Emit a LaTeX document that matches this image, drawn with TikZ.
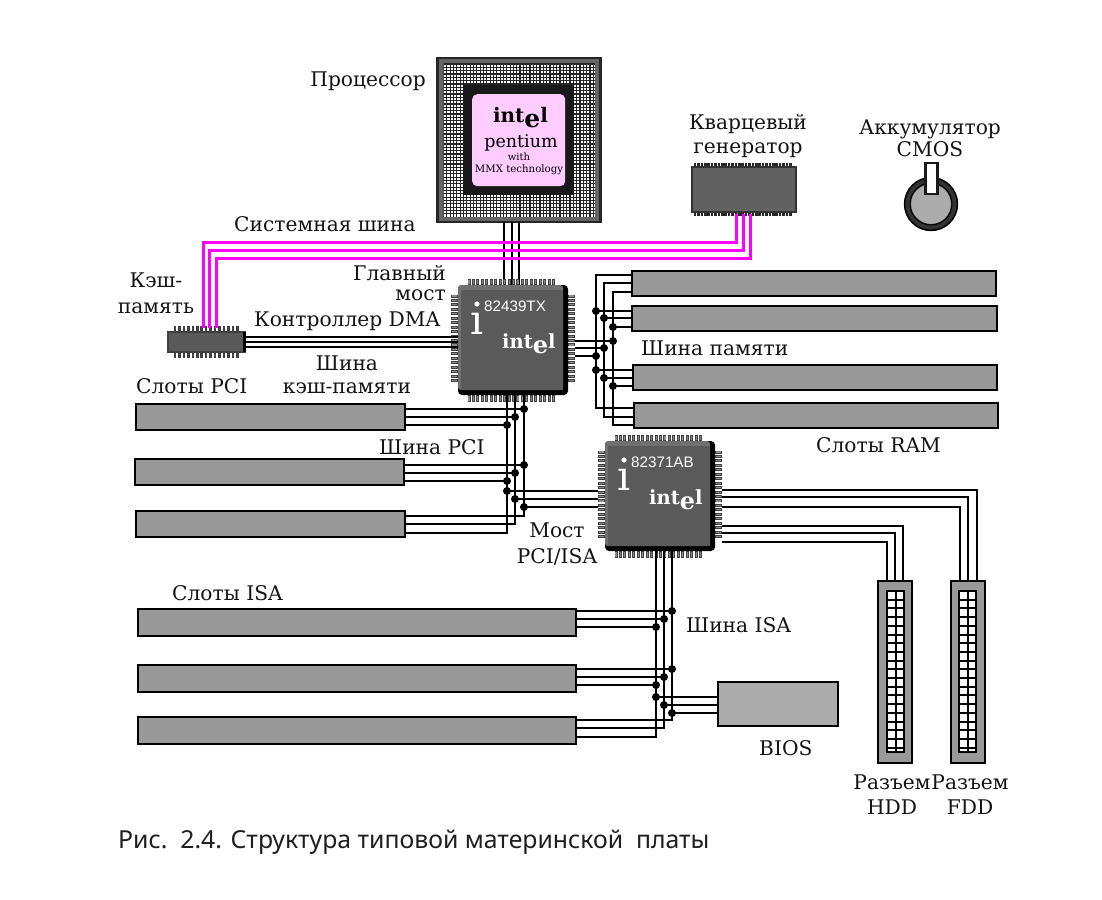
\documentclass[tikz,border=0pt]{standalone}
\usepackage{fontspec}
\setmainfont{DejaVu Serif}
\newfontfamily\chipsans{Liberation Sans}
\newfontfamily\capsans{Noto Sans}
\definecolor{slotgray}{HTML}{999999}
\definecolor{chipgray}{HTML}{5A5A5A}
\definecolor{chiplight}{HTML}{707070}
\definecolor{pinko}{HTML}{FFCCFF}
\definecolor{mag}{HTML}{FF00FF}
\definecolor{biosgray}{HTML}{ACACAC}
\newcommand{\fs}[1]{\fontsize{#1}{#1}\selectfont}
\tikzset{
  x=1pt,y=-1pt,
  slotbox/.style={draw=black,line width=2.8pt,fill=slotgray,inner sep=0pt,outer sep=0pt,anchor=north west},
  wire/.style={draw=black,line width=2.6pt,line join=miter},
  magwire/.style={draw=mag,line width=3pt,line join=miter},
  lbl/.style={font=\fs{20.2},inner sep=0pt,text=black!92},
  chiptext/.style={text=white,inner sep=0pt},
  pin/.style={draw=black!75,line width=3pt},
  pinlight/.style={draw=black!45,line width=1.1pt},
}
\newcommand{\tap}[2]{\draw[wire] (#1) -- (#1 -| #2); \fill (#1 -| #2) circle (4pt);}
% #1 name, #2 x left, #3 y top, #4 number text
\newcommand{\intelchip}[4]{%
  \begin{scope}[shift={(#2,#3)}]
    \foreach \k in {0,...,19}{
      \pgfmathsetmacro\p{11+\k*4.45}
      \draw[pin] (\p,-6.5) -- (\p,0); \draw[pinlight] (\p,-5.5) -- (\p,-1);
      \draw[pin] (\p,110) -- (\p,117); \draw[pinlight] (\p,111) -- (\p,116);
      \draw[pin] (-7,\p) -- (0,\p); \draw[pinlight] (-6,\p) -- (-1,\p);
      \draw[pin] (110,\p) -- (117,\p); \draw[pinlight] (111,\p) -- (116,\p);
    }
    \node[fill=black,rounded corners=4pt,minimum width=110pt,minimum height=110pt,inner sep=0pt,outer sep=0pt,anchor=north west] (#1) at (0,0) {};
    \fill[chiplight,rounded corners=3pt] (0,0) rectangle (105,105);
    \fill[chipgray] (3,5) -- (105,5) -- (105,105) -- (3,105) -- cycle;
    \node[chiptext,font=\chipsans\fs{15.2},anchor=west] (#1num) at (26,21) {#4};
    \fill[white] (19,19) circle (2.6pt);
    \node[chiptext,font=\fs{41},anchor=center] (#1i) at (19,39) {ı};
    \node[chiptext,font=\bfseries\fs{19.5},anchor=west] (#1logo) at (44,56) {int\smash{\raisebox{-5pt}{\fs{24}e}}l};
  \end{scope}}
\begin{document}
\begin{tikzpicture}
\useasboundingbox (0,0) rectangle (1102,899);
\fill[white] (0,0) rectangle (1102,899);

% ---------- anchors for the bus tracks
\coordinate (cpuA) at (504,222); \coordinate (cpuB) at (512,222); \coordinate (cpuC) at (519,222);
\coordinate (nbA) at (504,286); \coordinate (nbB) at (512,286); \coordinate (nbC) at (519,286);
\coordinate (pa) at (507,395); \coordinate (pb) at (515,395); \coordinate (pc) at (524,395);
\coordinate (ma) at (596,275); \coordinate (mb) at (604,283); \coordinate (mc) at (613,292);
\coordinate (ia) at (656,551); \coordinate (ib) at (664,551); \coordinate (ic) at (672,551);

% ---------- slots
\node[slotbox,minimum width=269pt,minimum height=26pt] (pci1) at (136,404) {};
\node[slotbox,minimum width=269pt,minimum height=26pt] (pci2) at (135,459) {};
\node[slotbox,minimum width=269pt,minimum height=26pt] (pci3) at (136,511) {};
\node[slotbox,minimum width=364pt,minimum height=25pt] (ram1) at (632,271) {};
\node[slotbox,minimum width=365pt,minimum height=25pt] (ram2) at (632,306) {};
\node[slotbox,minimum width=364pt,minimum height=25pt] (ram3) at (633,365) {};
\node[slotbox,minimum width=364pt,minimum height=25pt] (ram4) at (634,403) {};
\node[slotbox,minimum width=438pt,minimum height=27pt] (isa1) at (138,609) {};
\node[slotbox,minimum width=438pt,minimum height=27pt] (isa2) at (138,665) {};
\node[slotbox,minimum width=438pt,minimum height=27pt] (isa3) at (138,717) {};
\node[slotbox,fill=biosgray,minimum width=120pt,minimum height=44pt] (bios) at (718,682) {};

% ---------- CPU
\node[draw=black!85,line width=2.4pt,fill=black!60,minimum width=163pt,minimum height=164pt,inner sep=0pt,outer sep=0pt,anchor=north west] (cpu) at (437.5,58) {};
\fill[white] (443.5,64) rectangle (595,216.5);
\begin{scope}
  \clip (443.5,64) rectangle (595,216.5);
  \foreach \k in {0,...,46}{
    \pgfmathsetmacro\p{\k*3.33}
    \draw[black!85,line width=1.2pt] (443.5+\p,64) -- (443.5+\p,217);
    \draw[black!85,line width=1.2pt] (443,64+\p) -- (596,64+\p);
  }
\end{scope}
\fill[black!90] (463,85) rectangle (574,195);
\node[fill=pinko,rounded corners=5pt,minimum width=93pt,minimum height=92pt,inner sep=0pt,anchor=north west] (die) at (472,94) {};
\node[inner sep=0pt,font=\bfseries\fs{20}] (cpulogo) at (520.5,115.5) {int\smash{\raisebox{-4.5pt}{\fs{25}e}}l};
\node[inner sep=0pt,font=\fs{17.5}] (cpupent) at (521,142.5) {pentium};
\node[inner sep=0pt,font=\fs{10}] (cpuwith) at (519,156.5) {with};
\node[inner sep=0pt,font=\fs{10.2}] (cpummx) at (519,169.5) {MMX technology};

% ---------- wires CPU -> north bridge
\foreach \a/\b in {cpuA/nbA,cpuB/nbB,cpuC/nbC}{\draw[wire] (\a) -- (\b);}

% ---------- north bridge / south bridge
\intelchip{nb}{458}{285}{82439TX}
\intelchip{sb}{605}{441}{82371AB}

% ---------- cache chip
\foreach \k in {0,...,14}{
  \pgfmathsetmacro\p{175+\k*4.45}
  \draw[pin,line width=2.6pt] (\p,326) -- (\p,332);
  \draw[pin,line width=2.6pt] (\p,352) -- (\p,358);
}
\node[draw=black!75,line width=1.2pt,fill=black!65,minimum width=77pt,minimum height=20pt,inner sep=0pt,outer sep=0pt,anchor=north west] (cache) at (168,332) {};
\fill[black] (242.5,332) rectangle (245.5,352);

% ---------- clock generator
\foreach \k in {0,...,28}{
  \pgfmathsetmacro\p{695+\k*3.4}
  \draw[black!85,line width=2.6pt] (\p,163) -- (\p,167);
  \draw[black!85,line width=2.6pt] (\p,212) -- (\p,216);
}
\node[draw=black!80,line width=1.6pt,fill=black!62,minimum width=104pt,minimum height=45pt,inner sep=0pt,outer sep=0pt,anchor=north west] (gen) at (692,167) {};

% ---------- battery
\node[circle,draw=black!80,line width=6pt,fill=biosgray,minimum size=46pt,inner sep=0pt] (batt) at (931,204) {};
\draw[black,line width=1.6pt] (931,204) circle (26.4pt);
\draw[black,line width=1pt] (931,204) circle (21pt);
\node[draw=black!90,line width=2.4pt,fill=white,minimum width=12pt,minimum height=31pt,inner sep=0pt,outer sep=0pt,anchor=north west] (battcap) at (925.5,163) {};

% ---------- magenta system bus
\coordinate (cmA) at (203,328); \coordinate (cmB) at (209.5,328); \coordinate (cmC) at (216,328);
\coordinate (gmA) at (736,214); \coordinate (gmB) at (743,214); \coordinate (gmC) at (750,214);
\coordinate (ymA) at (0,242); \coordinate (ymB) at (0,250); \coordinate (ymC) at (0,258);
\draw[magwire] (cmA) -- (cmA |- ymA) -- (gmA |- ymA) -- (gmA);
\draw[magwire] (cmB) -- (cmB |- ymB) -- (gmB |- ymB) -- (gmB);
\draw[magwire] (cmC) -- (cmC |- ymC) -- (gmC |- ymC) -- (gmC);

% ---------- cache <-> north bridge
\foreach \y in {337,342,347}{
  \coordinate (t) at (0,\y);
  \draw[wire,line width=2.2pt] (cache.east |- t) -- (nb.west |- t) -- ++(-7,0) ;
}

% ---------- memory bus
\coordinate (r1a) at (632,275); \coordinate (r1b) at (632,283); \coordinate (r1c) at (632,292);
\coordinate (r2a) at (632,311); \coordinate (r2b) at (632,318); \coordinate (r2c) at (632,327);
\coordinate (r3a) at (633,370); \coordinate (r3b) at (633,378); \coordinate (r3c) at (633,386);
\coordinate (r4a) at (634,408); \coordinate (r4b) at (634,417); \coordinate (r4c) at (634,425);
\draw[wire] (r1a) -- (ma) |- (r4a);
\draw[wire] (r1b) -- (mb) |- (r4b);
\draw[wire] (r1c) -- (mc) |- (r4c);
\tap{r2a}{ma}\tap{r2b}{mb}\tap{r2c}{mc}
\tap{r3a}{ma}\tap{r3b}{mb}\tap{r3c}{mc}
\coordinate (nbr1) at (575,341); \coordinate (nbr2) at (575,348); \coordinate (nbr3) at (575,356);
\tap{nbr1}{mc}\tap{nbr2}{mb}\tap{nbr3}{ma}

% ---------- PCI bus
\coordinate (p1a) at (405,409); \coordinate (p1b) at (405,417); \coordinate (p1c) at (405,425);
\coordinate (p2a) at (404,465); \coordinate (p2b) at (404,473); \coordinate (p2c) at (404,481);
\coordinate (p3a) at (405,516); \coordinate (p3b) at (405,524); \coordinate (p3c) at (405,533);
\tap{p1a}{pc}\tap{p1b}{pb}\tap{p1c}{pa}
\tap{p2a}{pc}\tap{p2b}{pb}\tap{p2c}{pa}
\draw[wire] (p3a) -| (pc);
\draw[wire] (p3b) -| (pb);
\draw[wire] (p3c) -| (pa);
\coordinate (sl1) at (598,491); \coordinate (sl2) at (598,499); \coordinate (sl3) at (598,507);
\tap{sl1}{pa}\tap{sl2}{pb}\tap{sl3}{pc}

% ---------- ISA bus
\coordinate (i1a) at (576,611); \coordinate (i1b) at (576,619); \coordinate (i1c) at (576,627);
\coordinate (i2a) at (576,669); \coordinate (i2b) at (576,677); \coordinate (i2c) at (576,685);
\coordinate (i3a) at (576,720); \coordinate (i3b) at (576,728); \coordinate (i3c) at (576,737);
\tap{i1a}{ic}\tap{i1b}{ib}\tap{i1c}{ia}
\tap{i2a}{ic}\tap{i2b}{ib}\tap{i2c}{ia}
\draw[wire] (i3a) -| (ic);
\draw[wire] (i3b) -| (ib);
\draw[wire] (i3c) -| (ia);
\coordinate (b1) at (718,697); \coordinate (b2) at (718,705); \coordinate (b3) at (718,713);
\tap{b1}{ia}\tap{b2}{ib}\tap{b3}{ic}

% ---------- HDD / FDD connectors
\foreach \n/\xo/\xi in {hdd/878/887,fdd/951/959}{
  \node[slotbox,minimum width=34pt,minimum height=182pt] (\n) at (\xo,581) {};
  \node[draw=black,line width=2.4pt,fill=white,minimum width=17pt,minimum height=161pt,inner sep=0pt,outer sep=0pt,anchor=north west] (\n in) at (\xi,591) {};
  \draw[black,line width=2pt] (\xi+8.5,591) -- (\xi+8.5,752);
  \foreach \k in {1,...,18}{ \draw[black,line width=2pt] (\xi,591+\k*8.7) -- (\xi+17,591+\k*8.7); }
}
\coordinate (s1) at (722,490); \coordinate (s2) at (722,497); \coordinate (s3) at (722,507);
\coordinate (s4) at (722,526); \coordinate (s5) at (722,533); \coordinate (s6) at (722,542);
\coordinate (f1) at (977,580); \coordinate (f2) at (968,580); \coordinate (f3) at (960,580);
\coordinate (h1) at (903,581); \coordinate (h2) at (895,581); \coordinate (h3) at (887,581);
\draw[wire] (s1) -| (f1); \draw[wire] (s2) -| (f2); \draw[wire] (s3) -| (f3);
\draw[wire] (s4) -| (h1); \draw[wire] (s5) -| (h2); \draw[wire] (s6) -| (h3);

% ---------- labels
\node[lbl,anchor=east] (l1) at (426,81) {Процессор};
\node[lbl,align=center] (l2) at (748,136) {Кварцевый\\[3pt]генератор};
\node[lbl,align=center] (l3) at (930,138) {Аккумулятор\\[2pt]CMOS};
\node[lbl,anchor=west] (l4) at (234,224) {Системная шина};
\node[lbl,align=right,anchor=east] (l5) at (446,283) {Главный\\[0pt]мост};
\node[lbl,align=center] (l6) at (156,293) {Кэш-\\[6pt]память};
\node[lbl,anchor=west] (l7) at (254,321) {Контроллер DMA};
\node[lbl,align=center] (l8) at (347,375) {Шина\\[3pt]кэш-памяти};
\node[lbl,anchor=west] (l9) at (641,348) {Шина памяти};
\node[lbl,anchor=west] (l10) at (136,386) {Слоты PCI};
\node[lbl,anchor=west] (l11) at (816,445) {Слоты RAM};
\node[lbl,anchor=west] (l12) at (379,447) {Шина PCI};
\node[lbl,align=center] (l13) at (557,544) {Мост\\[6pt]PCI/ISA};
\node[lbl,anchor=west] (l14) at (172,593) {Слоты ISA};
\node[lbl,anchor=west] (l15) at (686,625) {Шина ISA};
\node[lbl,anchor=west] (l16) at (759,748) {BIOS};
\node[lbl,align=center] (l17) at (892,795) {Разъем\\[5pt]HDD};
\node[lbl,align=center] (l18) at (970,795) {Разъем\\[5pt]FDD};
\node[inner sep=0pt,anchor=west,font=\capsans\fs{24.8},text=black!88] (cap) at (118,842) {Рис.\ \ 2.4. Структура типовой материнской\ \ платы};
\end{tikzpicture}
\end{document}
